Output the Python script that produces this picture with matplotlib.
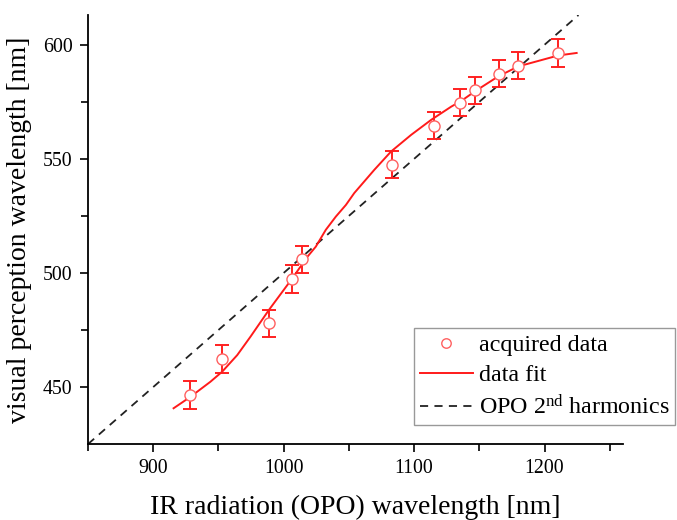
import matplotlib
matplotlib.use("Agg")
import matplotlib.pyplot as plt
import numpy as np

plt.rcParams['font.family'] = ['Liberation Serif', 'DejaVu Serif']
plt.rcParams['mathtext.default'] = 'regular'

# acquired data
ir_wavelength = [928.5, 952.8, 988.7, 1006.0, 1013.8, 1082.8, 1114.9, 1135.4, 1146.4, 1165.2, 1179.7, 1210.5]
visual_wavelength = [446.5, 462.3, 477.9, 497.4, 506.0, 547.5, 564.6, 574.6, 580.0, 587.3, 590.9, 596.3]
visual_error = [6, 6, 6, 6, 6, 6, 6, 6, 6, 6, 6, 6]

# data fit curve
fit_x = [915.6, 928.5, 943.8, 952.8, 964.4, 974.6, 988.7, 1006.7, 1018.2, 1024.6, 1032.3,
         1040.0, 1047.7, 1054.1, 1069.5, 1082.3, 1097.7, 1113.1, 1128.5, 1136.2, 1146.4,
         1164.4, 1179.8, 1210.5, 1224.6]
fit_y = [440.7, 445.7, 452.3, 456.7, 464.0, 472.1, 483.8, 497.7, 507.1, 511.5, 518.9,
         524.7, 529.8, 535.0, 545.2, 553.2, 560.5, 567.1, 572.9, 575.4, 579.5,
         586.1, 590.5, 595.3, 596.4]

# OPO second harmonic: lambda/2
harmonic_x = np.array([850, 1226])
harmonic_y = harmonic_x / 2.0

fig = plt.figure(figsize=(6.77, 5.2), dpi=100)
ax = fig.add_axes([0.130, 0.146, 0.790, 0.825])

ax.plot(harmonic_x, harmonic_y, color='#222222', lw=1.3, dashes=(4.5, 3.5),
        label='OPO 2$^{nd}$ harmonics', zorder=2)
ax.plot(fit_x, fit_y, color='#ff1a1a', lw=1.4, label='data fit', zorder=3)
ax.errorbar(ir_wavelength, visual_wavelength, yerr=visual_error, fmt='none',
            ecolor='#ff2020', elinewidth=1.4, capsize=5, capthick=1.4, zorder=4)
ax.plot(ir_wavelength, visual_wavelength, 'o', mfc='white', mec='#ff6060',
        ms=8, mew=1.0, ls='none', label='acquired data', zorder=5)

ax.set_xlim(850, 1260)
ax.set_ylim(425, 613)
ax.set_xticks([900, 1000, 1100, 1200])
ax.set_xticks([850, 950, 1050, 1150, 1250], minor=True)
ax.set_yticks([450, 500, 550, 600])
ax.set_yticks([475, 525, 575], minor=True)

for s in ['top', 'right']:
    ax.spines[s].set_visible(False)
for s in ['left', 'bottom']:
    ax.spines[s].set_linewidth(1.3)

ax.tick_params(which='major', direction='out', length=6, width=1.2, labelsize=14.3, pad=5)
ax.tick_params(which='minor', direction='out', length=5, width=1.2)

ax.set_xlabel('IR radiation (OPO) wavelength [nm]', fontsize=20, labelpad=12)
ax.set_ylabel('visual perception wavelength [nm]', fontsize=20, labelpad=8)

handles, labels = ax.get_legend_handles_labels()
order = [2, 1, 0]
leg = fig.legend([handles[i] for i in order], [labels[i] for i in order],
                 loc='upper left', bbox_to_anchor=(0.611, 0.369),
                 fontsize=17.3, frameon=True, fancybox=False, framealpha=1,
                 edgecolor='#999999', handlelength=2.2, handletextpad=0.25,
                 labelspacing=0.35, borderpad=0.25, borderaxespad=0,
                 markerscale=0.85)
leg.get_frame().set_linewidth(1.0)

fig.savefig('out.png', dpi=100)
